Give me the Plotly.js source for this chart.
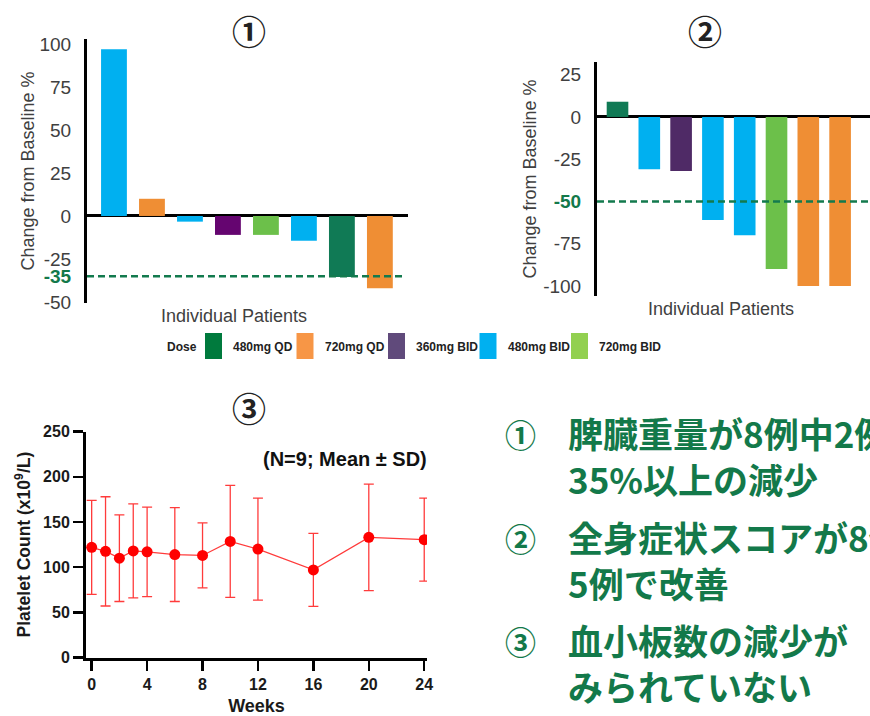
<!DOCTYPE html>
<html><head><meta charset="utf-8">
<script src="https://cdn.plot.ly/plotly-3.0.1.min.js"></script>
<style>html,body{margin:0;padding:0;background:#fff;overflow:hidden}#chart{width:870px;height:716px}</style>
</head><body><div id="chart"></div>
<script>
// ---- data ----
const patients = ['P1','P2','P3','P4','P5','P6','P7','P8'];
const spleenChange = [97, 10, -3.3, -11, -11, -14.4, -35.5, -42];
const spleenDose = ['480mg BID','720mg QD','480mg BID','360mg BID','720mg BID','480mg BID','480mg QD','720mg QD'];
const symptomChange = [9, -31, -32, -61, -70, -90, -100, -100];
const symptomDose = ['480mg QD','480mg BID','360mg BID','480mg BID','480mg BID','720mg BID','720mg QD','720mg QD'];
const spleenThreshold = -35;
const symptomThreshold = -50;
const spleenTicks = [100, 75, 50, 25, 0, -25, -35, -50];
const symptomTicks = [25, 0, -25, -50, -75, -100];
const weeks = [0, 1, 2, 3, 4, 6, 8, 10, 12, 16, 20, 24];
const plateletMean = [122, 117.5, 110, 118, 117, 114, 113, 128.5, 120, 97, 133, 130.5];
const plateletSD = [52, 60.5, 48, 52, 49.5, 52, 36, 62, 56.5, 40.5, 59, 46];
const weekTicks = [0, 4, 8, 12, 16, 20, 24];
const doseNames = ['480mg QD','720mg QD','360mg BID','480mg BID','720mg BID'];
const legendColors = ['#007a3d','#f79646','#604a7b','#00b0f0','#92d050'];
const panelMarks = ['①','②','③'];
const summaryMarks = ['①','②','③'];
const summaryTexts = [
  ['脾臓重量が8例中2例で','35%以上の減少'],
  ['全身症状スコアが8例中','5例で改善'],
  ['血小板数の減少が','みられていない']
];

// ---- styling ----
const W = 870, H = 716;
const px = x => x / W;
const py = y => 1 - y / H;
const GREEN = '#13794a';
const TXT = '#404040';
const barColors1 = {'480mg QD':'#107a55','720mg QD':'#ef8e34','360mg BID':'#650570','480mg BID':'#00b0f0','720mg BID':'#6cc04a'};
const barColors2 = Object.assign({}, barColors1, {'360mg BID':'#4f2a66'});

function tickText(vals, special) {
  return vals.map(v => v === special
    ? '<b><span style="color:' + GREEN + '">' + v + '</span></b>'
    : String(v));
}

const traces = [
  {type:'bar', x:patients, y:spleenChange, xaxis:'x', yaxis:'y',
   marker:{color:spleenDose.map(d => barColors1[d]), line:{width:0}}, hoverinfo:'y', showlegend:false},
  {type:'bar', x:patients, y:symptomChange, xaxis:'x2', yaxis:'y2',
   marker:{color:symptomDose.map(d => barColors2[d]), line:{width:0}}, hoverinfo:'y', showlegend:false},
  {type:'scatter', mode:'lines+markers', x:weeks, y:plateletMean, xaxis:'x3', yaxis:'y3',
   line:{color:'#ff3b3b', width:1.2}, marker:{color:'#ff0000', size:11},
   error_y:{type:'data', array:plateletSD, visible:true, color:'#ff3b3b', thickness:1.3, width:5},
   showlegend:false}
];

const barTickFont = {family:'Liberation Sans, Arial, sans-serif', size:19, color:TXT};
const barTitleFont = {family:'Liberation Sans, Arial, sans-serif', size:18, color:TXT};
const boldFont = (s, c) => ({family:'Liberation Sans, Arial, sans-serif', size:s, color:c || '#1a1a1a', weight:'bold'});

const layout = {
  width: W, height: H, margin:{l:0, r:0, t:0, b:0},
  paper_bgcolor:'#fff', plot_bgcolor:'rgba(0,0,0,0)',
  bargap: 0.32, showlegend:false,
  xaxis:{anchor:'y', domain:[px(87), px(408)], range:[-0.71, 7.74], showticklabels:false, ticks:'', showgrid:false,
         showline:false, zeroline:false},
  yaxis:{anchor:'x', domain:[py(303), py(39)], range:[-50.6, 102.9], tickvals:spleenTicks, ticktext:tickText(spleenTicks, spleenThreshold),
         tickfont:barTickFont, ticks:'outside', ticklen:9, tickcolor:'rgba(0,0,0,0)', showgrid:false,
         showline:true, linecolor:'#000', linewidth:3, zeroline:true, zerolinecolor:'#000', zerolinewidth:3,
         title:{text:'Change from Baseline %', font:barTitleFont, standoff:1}},
  xaxis2:{anchor:'y2', domain:[px(597), 1], range:[-0.645, 7.94], showticklabels:false, ticks:'', showgrid:false,
          showline:false, zeroline:false},
  yaxis2:{anchor:'x2', domain:[py(296), py(62)], range:[-105.9, 32.5], tickvals:symptomTicks, ticktext:tickText(symptomTicks, symptomThreshold),
          tickfont:barTickFont, ticks:'outside', ticklen:9, tickcolor:'rgba(0,0,0,0)', showgrid:false,
          showline:true, linecolor:'#000', linewidth:3, zeroline:true, zerolinecolor:'#000', zerolinewidth:3,
          title:{text:'Change from Baseline %', font:barTitleFont, standoff:2}},
  xaxis3:{anchor:'y3', domain:[px(86), px(427)], range:[-0.41, 24.2], tickvals:weekTicks, ticks:'outside', ticklen:10, tickwidth:2.5,
          tickcolor:'#000', tickfont:boldFont(16), showline:true, linecolor:'#000', linewidth:3, showgrid:false, zeroline:false,
          title:{text:'Weeks', font:boldFont(18), standoff:8}},
  yaxis3:{anchor:'x3', domain:[py(657.5), py(431.7)], range:[0, 250], dtick:50, ticks:'outside', ticklen:10, tickwidth:2.5,
          tickcolor:'#000', tickfont:boldFont(16), showline:true, linecolor:'#000', linewidth:3, showgrid:false, zeroline:false,
          title:{text:'Platelet Count (x10<sup>9</sup>/L)', font:boldFont(17.5), standoff:8}},
  shapes: [
    {type:'line', xref:'x domain', yref:'y', x0:0, x1:0.985, y0:spleenThreshold, y1:spleenThreshold,
     line:{color:'#137a4e', width:2.5, dash:'7px,4px'}},
    {type:'line', xref:'x2 domain', yref:'y2', x0:0, x1:1, y0:symptomThreshold, y1:symptomThreshold,
     line:{color:'#137a4e', width:2.5, dash:'7px,4px'}}
  ],
  annotations: []
};

// legend row
const legFont = {family:'Liberation Sans, Arial, sans-serif', size:12, color:'#222', weight:'bold'};
layout.annotations.push({xref:'paper', yref:'paper', x:px(182), y:py(347), text:'Dose', showarrow:false,
  xanchor:'center', yanchor:'middle', font:legFont});
doseNames.forEach((name, i) => {
  const x0 = 205 + i * 91.5;
  layout.shapes.push({type:'rect', xref:'paper', yref:'paper', x0:px(x0), x1:px(x0 + 17), y0:py(359), y1:py(333),
    fillcolor:legendColors[i], line:{width:0}});
  layout.annotations.push({xref:'paper', yref:'paper', x:px(x0 + 26), y:py(347), text:name, showarrow:false,
    xanchor:'left', yanchor:'middle', font:legFont});
});

// panel marks
[[249, 30], [705, 30], [249, 408]].forEach((p, i) => {
  layout.annotations.push({xref:'paper', yref:'paper', x:px(p[0]), y:py(p[1]), text:panelMarks[i], showarrow:false,
    xanchor:'center', yanchor:'middle', font:{family:'Noto Sans CJK JP, sans-serif', size:34, color:'#222', weight:'bold'}});
});

// x-axis captions for bar panels
layout.annotations.push({xref:'paper', yref:'paper', x:px(234), y:py(316), text:'Individual Patients', showarrow:false,
  xanchor:'center', yanchor:'middle', font:barTitleFont});
layout.annotations.push({xref:'paper', yref:'paper', x:px(721), y:py(309), text:'Individual Patients', showarrow:false,
  xanchor:'center', yanchor:'middle', font:barTitleFont});

// N / stat note
layout.annotations.push({xref:'paper', yref:'paper', x:px(345), y:py(459), text:'(N=9; Mean ± SD)', showarrow:false,
  xanchor:'center', yanchor:'middle', font:boldFont(20, '#111')});

// summary text block
const summaryTop = [433, 537, 640];
summaryTexts.forEach((lines, i) => {
  layout.annotations.push({xref:'paper', yref:'paper', x:px(520), y:py(summaryTop[i]), text:summaryMarks[i], showarrow:false,
    xanchor:'center', yanchor:'middle', font:{family:'Noto Sans CJK JP, sans-serif', size:31, color:GREEN, weight:'bold'}});
  layout.annotations.push({xref:'paper', yref:'paper', x:px(566), y:py(summaryTop[i] + 22.5), text:lines.join('<br>'), showarrow:false,
    xanchor:'left', yanchor:'middle', align:'left', font:{family:'Noto Sans CJK JP, sans-serif', size:35, color:GREEN, weight:'bold'}});
});

Plotly.newPlot('chart', traces, layout, {displayModeBar:false, staticPlot:true});
</script>
</body></html>
